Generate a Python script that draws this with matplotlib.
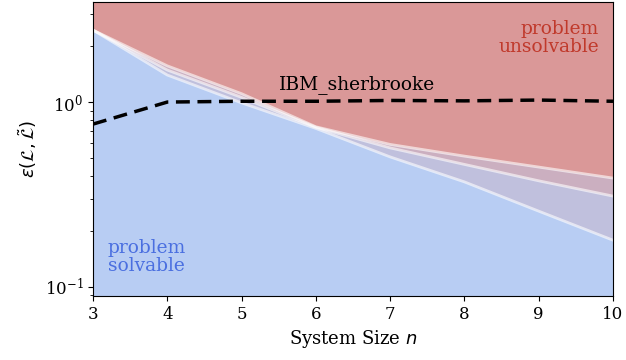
import matplotlib
matplotlib.use("Agg")
import matplotlib.pyplot as plt
import numpy as np

plt.rcParams['font.family'] = ['DejaVu Serif']
plt.rcParams['font.size'] = 12

n = [3, 4, 5, 6, 7, 8, 9, 10]
bound_low = [2.45, 1.40, 0.99, 0.72, 0.505, 0.37, 0.257, 0.179]
bound_mid = [2.45, 1.49, 1.06, 0.73, 0.565, 0.46, 0.375, 0.31]
bound_top = [2.45, 1.57, 1.11, 0.735, 0.59, 0.51, 0.445, 0.388]
device_n = [3, 4, 5, 6, 7, 8, 9, 10]
device_eps = [0.76, 1.0, 1.01, 1.01, 1.02, 1.015, 1.025, 1.01]

ymin, ymax = 0.0894, 3.47
red = (0.76, 0.31, 0.31)
blue = (0.53, 0.67, 0.93)
a = 0.25

fig = plt.figure(figsize=(6.26, 3.6), dpi=100)
ax = fig.add_axes([0.1486, 0.178, 0.8306, 0.816])
ax.set_yscale('log')
for b in [bound_low, bound_mid, bound_top]:
    ax.fill_between(n, b, ymax, color=red, alpha=a, lw=0)
    ax.fill_between(n, ymin, b, color=blue, alpha=a, lw=0)
for b in [bound_low, bound_mid, bound_top]:
    ax.plot(n, b, color='white', lw=2, alpha=0.6)

ax.plot(device_n, device_eps, color='black', lw=2.5, ls=(0, (4, 2.2)))
ax.text(6.55, 1.24, 'IBM_sherbrooke', ha='center', va='center', fontsize=13.4)
ax.text(9.81, 2.22, 'problem\nunsolvable', ha='right', va='center', color='#c0392b',
        fontsize=13.4, linespacing=1.05)
ax.text(3.2, 0.145, 'problem\nsolvable', ha='left', va='center', color='#4a6fe0',
        fontsize=13.4, linespacing=1.05)

ax.set_xlim(3, 10)
ax.set_ylim(ymin, ymax)
ax.set_xlabel('System Size $n$', fontsize=13)
ax.set_ylabel(r'$\varepsilon(\mathcal{L},\tilde{\mathcal{L}})$', fontsize=13)
fig.savefig('out.png', dpi=100)
